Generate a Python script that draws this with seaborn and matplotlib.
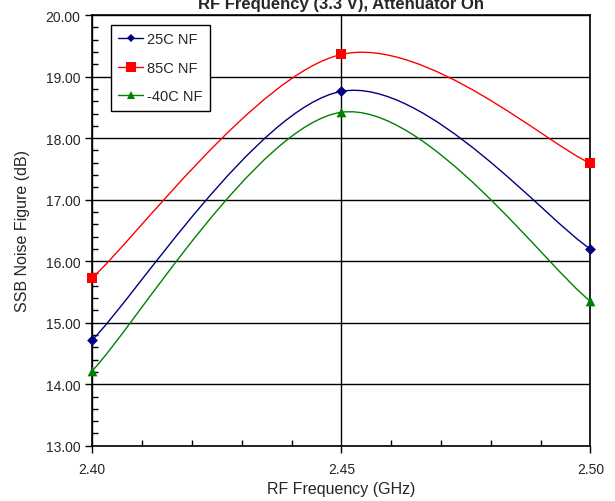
import matplotlib
matplotlib.use("Agg")
import matplotlib.pyplot as plt
import numpy as np
import pandas as pd
import seaborn as sns
from matplotlib.lines import Line2D
from matplotlib.path import Path
from matplotlib.patches import PathPatch
from matplotlib.ticker import MultipleLocator, FormatStrFormatter

freq = [2.40, 2.45, 2.50]
nf_25c = [14.72, 18.76, 16.20]
nf_85c = [15.73, 19.36, 17.59]
nf_m40c = [14.22, 18.42, 15.35]

series = ["25C NF", "85C NF", "-40C NF"]
colors = {"25C NF": "#000080", "85C NF": "#ff0000", "-40C NF": "#008000"}
markers = {"25C NF": "D", "85C NF": "s", "-40C NF": "^"}
msizes = {"25C NF": 5.5, "85C NF": 7.5, "-40C NF": 7}

df = pd.DataFrame({
    "freq": freq * 3,
    "nf": nf_25c + nf_85c + nf_m40c,
    "series": [s for s in series for _ in freq],
})

sns.set_style("white")
plt.rcParams["font.family"] = ["Liberation Sans", "DejaVu Sans"]


def smooth_path(x, y):
    # Excel-style smoothed line: cubic bezier segments through the points
    pts = np.column_stack([x, y])
    n = len(pts)
    verts = [pts[0]]
    codes = [Path.MOVETO]
    for i in range(n - 1):
        p_prev = pts[max(i - 1, 0)]
        p0, p1 = pts[i], pts[i + 1]
        p_next = pts[min(i + 2, n - 1)]
        c1 = p0 + (p1 - p_prev) / 6
        c2 = p1 - (p_next - p0) / 6
        verts += [c1, c2, p1]
        codes += [Path.CURVE4] * 3
    return Path(verts, codes)


fig, ax = plt.subplots(figsize=(6.15, 5.02), dpi=100)
fig.subplots_adjust(left=0.15, right=0.96, bottom=0.11, top=0.968)

for s in series:
    sub = df[df["series"] == s]
    ax.add_patch(PathPatch(smooth_path(sub["freq"].values, sub["nf"].values),
                           fill=False, edgecolor=colors[s], lw=1.0, zorder=3))
    sns.scatterplot(data=sub, x="freq", y="nf", ax=ax, color=colors[s],
                    marker=markers[s], s=msizes[s] ** 2, edgecolor=colors[s],
                    linewidth=0, zorder=4, clip_on=False, legend=False)

ax.set_xlim(2.40, 2.50)
ax.set_ylim(13, 20)
ax.xaxis.set_major_locator(MultipleLocator(0.05))
ax.xaxis.set_minor_locator(MultipleLocator(0.01))
ax.yaxis.set_major_locator(MultipleLocator(1))
ax.yaxis.set_minor_locator(MultipleLocator(0.2))
ax.xaxis.set_major_formatter(FormatStrFormatter("%.2f"))
ax.yaxis.set_major_formatter(FormatStrFormatter("%.2f"))
ax.grid(True, which="major", color="black", lw=1.0)
ax.tick_params(which="major", direction="out", length=5, width=1,
               labelsize=10, color="black", bottom=True, left=True)
ax.tick_params(axis="x", which="major", pad=7)
ax.tick_params(which="minor", direction="in", length=4, width=1,
               color="black", bottom=True, left=True)
for sp in ax.spines.values():
    sp.set_color("black")
    sp.set_linewidth(1.2)

ax.set_xlabel("RF Frequency (GHz)", fontsize=11.5, labelpad=3)
ax.set_ylabel("SSB Noise Figure (dB)", fontsize=11.5, labelpad=11)
ax.set_title("RF Frequency (3.3 V), Attenuator On", fontsize=12,
             fontweight="bold", pad=5)

handles = [Line2D([0], [0], color=colors[s], lw=1, marker=markers[s],
                  markersize=msizes[s] - 1, markeredgewidth=0) for s in series]
leg = ax.legend(handles, series, loc="upper left",
                bbox_to_anchor=(0.038, 0.977), borderaxespad=0,
                fontsize=10.5, frameon=True, fancybox=False,
                edgecolor="black", framealpha=1, handlelength=1.7,
                handletextpad=0.25, borderpad=0.5, labelspacing=1.0)
leg.get_frame().set_linewidth(1.0)

fig.savefig("out.png", dpi=100)
